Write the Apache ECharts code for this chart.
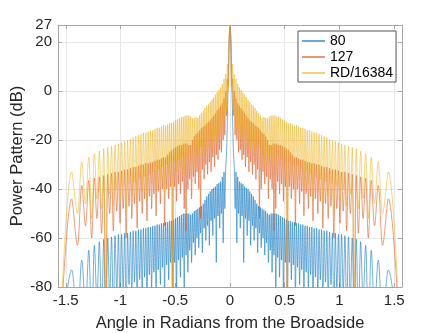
<!DOCTYPE html>
<html>
<head>
<meta charset="utf-8">
<script src="https://cdn.jsdelivr.net/npm/echarts@6/dist/echarts.min.js"></script>
<style>
  html, body { margin: 0; padding: 0; background: #fff; }
  #main { width: 444px; height: 333px; }
</style>
</head>
<body>
<div id="main"></div>
<script>
// angles (rad) of the lobes on one side, from the endfire edge to broadside
// even index = null, odd index = lobe top
var angles = [
  1.5708, 1.4457, 1.3938, 1.3539, 1.3201, 1.2904, 1.2634, 1.2386, 1.2154, 1.1936,
  1.1729, 1.1532, 1.1344, 1.1163, 1.0988, 1.0819, 1.0656, 1.0495, 1.0341, 1.0190,
  1.0042, 0.9899, 0.9758, 0.9620, 0.9484, 0.9352, 0.9221, 0.9093, 0.8967, 0.8843,
  0.8721, 0.8600, 0.8481, 0.8363, 0.8247, 0.8133, 0.8020, 0.7908, 0.7798, 0.7689,
  0.7580, 0.7473, 0.7367, 0.7262, 0.7158, 0.7055, 0.6953, 0.6852, 0.6751, 0.6652,
  0.6553, 0.6455, 0.6357, 0.6260, 0.6164, 0.6069, 0.5974, 0.5880, 0.5786, 0.5693,
  0.5601, 0.5509, 0.5417, 0.5326, 0.5236, 0.5146, 0.5057, 0.4967, 0.4879, 0.4791,
  0.4703, 0.4615, 0.4528, 0.4441, 0.4355, 0.4269, 0.4183, 0.4098, 0.4013, 0.3928,
  0.3844, 0.3760, 0.3676, 0.3592, 0.3509, 0.3426, 0.3343, 0.3261, 0.3178, 0.3096,
  0.3014, 0.2932, 0.2851, 0.2770, 0.2689, 0.2608, 0.2527, 0.2446, 0.2366, 0.2285,
  0.2205, 0.2125, 0.2046, 0.1966, 0.1886, 0.1807, 0.1727, 0.1648, 0.1569, 0.1490,
  0.1411, 0.1332, 0.1253, 0.1175, 0.1096, 0.1017, 0.0939, 0.0860, 0.0782, 0.0704,
  0.0625, 0.0547, 0.0469, 0.0391, 0.0313, 0.0234, 0.0156, 0.0078, 0
]

// power pattern in dB at those angles
var db80 = [
  -120, -73, -95, -69, -88, -65, -100, -63, -85, -61.5,
  -95, -60.5, -100, -60, -84, -59.5, -92, -59, -82, -58.5,
  -90, -58.5, -80, -58, -96, -58, -79, -57.5, -86, -57,
  -78, -57, -90, -56.5, -77, -56.5, -84, -56, -76, -56,
  -88, -55.5, -75, -55.5, -81, -55, -74, -55, -86, -54.5,
  -73, -54.5, -79, -54, -72, -54, -84, -53.5, -71, -53.5,
  -77, -53, -70, -53, -95, -52.5, -70, -52, -82, -51.5,
  -69, -51, -76, -50.5, -68, -50, -85, -50, -67, -50,
  -74, -50, -65, -50.5, -70, -50, -62, -49, -67, -48.5,
  -60, -48, -64, -47.5, -58, -47, -66, -46, -56, -44.5,
  -61, -43, -55, -42, -63, -41, -53, -40, -59, -39.5,
  -52, -39, -70, -38, -51, -37.5, -56, -37, -50, -35,
  -62, -33, -48, -31, -25, -10, 5, 20, 26
]
var db127 = [
  -120, -44, -63, -38.5, -55, -36.5, -60, -35.5, -52, -35,
  -58, -34.5, -100, -34, -50, -33.5, -57, -33, -49, -33,
  -54, -32.5, -48, -32, -60, -32, -47, -31.5, -52, -31,
  -46, -31, -56, -30.5, -45, -30, -50, -30, -44, -29.5,
  -53, -29.5, -43, -29, -48, -29, -42, -28.5, -51, -28,
  -41, -28, -46, -27.5, -40, -27, -55, -27, -40, -26,
  -44, -25, -39, -24, -100, -23.5, -39, -23, -45, -22.5,
  -38, -22, -42, -22, -37, -21.5, -48, -21.5, -57, -21.5,
  -40, -22, -36, -22, -44, -20, -35, -18.5, -38, -17.5,
  -33, -17, -40, -16, -52, -15, -32, -14.5, -36, -14,
  -30, -13, -34, -12.5, -29, -12, -33, -11, -27, -10,
  -31, -9, -26, -8, -28, -7, -24, -6, -25, -5,
  -20, -3, -18, 0, -10, 5, 2, 21, 26.5
]
var dbRD = [
  -120, -33, -50, -29, -46, -27, -52, -25.5, -44, -24.5,
  -48, -23.5, -100, -23, -42, -22.5, -47, -22, -40, -21.5,
  -45, -21, -39, -20.5, -50, -20, -38, -19.5, -43, -19,
  -37, -18.5, -46, -18, -36, -17.5, -41, -17, -35, -17,
  -44, -16.5, -34, -16, -38, -16, -33, -15.5, -40, -15,
  -32, -15, -36, -14.5, -31, -14, -42, -14, -30, -13.5,
  -34, -13, -29, -13, -100, -12.5, -29, -12, -33, -11.5,
  -28, -11, -31, -10.5, -27, -10.5, -34, -10, -27, -10,
  -30, -10, -26, -10.5, -29, -11, -25, -11, -31, -10.5,
  -24, -11, -27, -10, -23, -9, -26, -8, -22, -7,
  -25, -6, -21, -5.5, -24, -4.5, -20, -3.5, -23, -2.5,
  -19, -1.5, -21, -0.5, -17, 0.5, -19, 1.5, -15, 3,
  -16, 5, -12, 7, -8, 11, 0, 22, 27
]

var names = ['80', '127', 'RD/16384']
var colors = ['#0072BD', '#D95319', '#EDB120']
var xTicks = [-1.5, -1, -0.5, 0, 0.5, 1, 1.5]
var yTicks = [-80, -60, -40, -20, 0, 20, 27]

// pattern is symmetric: left half then mirrored right half
function pairs (vals) {
  var out = []
  for (var i = 0; i < angles.length; i++) out.push([-angles[i], vals[i]])
  for (var j = angles.length - 2; j >= 0; j--) out.push([angles[j], vals[j]])
  return out
}

var chart = echarts.init(document.getElementById('main'))
var txt = '#262626'
var boxLine = { onZero: false, lineStyle: { color: '#a6a6a6', width: 1 } }
var grid = { show: true, lineStyle: { color: '#e6e6e6', width: 1 } }

chart.setOption({
  animation: false,
  textStyle: { fontFamily: 'Liberation Sans, Arial, sans-serif' },
  grid: { left: 58, right: 42, top: 25, bottom: 46, containLabel: false, outerBoundsMode: 'none' },
  legend: {
    orient: 'vertical',
    left: 298,
    top: 31,
    data: names,
    icon: 'rect',
    itemWidth: 23,
    itemHeight: 1.2,
    itemGap: 2,
    padding: [3, 3, 2, 4],
    borderColor: '#555',
    borderWidth: 1,
    borderRadius: 0,
    backgroundColor: '#fff',
    textStyle: { fontSize: 14, color: '#000', lineHeight: 13 }
  },
  xAxis: [{
    type: 'value',
    min: -Math.PI / 2,
    max: Math.PI / 2,
    name: 'Angle in Radians from the Broadside',
    nameLocation: 'middle',
    nameGap: 28,
    nameMoveOverlap: false,
    nameTextStyle: { fontSize: 16.5, color: txt },
    axisLine: boxLine,
    axisTick: { inside: true, length: 4, customValues: xTicks, lineStyle: { color: '#a6a6a6' } },
    axisLabel: { customValues: xTicks, fontSize: 15, color: txt, margin: 6 },
    splitLine: grid
  }, {
    type: 'value',
    position: 'top',
    min: -Math.PI / 2,
    max: Math.PI / 2,
    axisLine: boxLine,
    axisTick: { inside: true, length: 4, customValues: xTicks, lineStyle: { color: '#a6a6a6' } },
    axisLabel: { show: false },
    splitLine: { show: false }
  }],
  yAxis: [{
    type: 'value',
    min: -80,
    max: 27,
    name: 'Power Pattern (dB)',
    nameLocation: 'middle',
    nameGap: 32,
    nameMoveOverlap: false,
    nameTextStyle: { fontSize: 16.5, color: txt },
    axisLine: boxLine,
    axisTick: { inside: true, length: 4, customValues: yTicks, lineStyle: { color: '#a6a6a6' } },
    axisLabel: { customValues: yTicks, fontSize: 15, color: txt, margin: 6 },
    splitLine: grid
  }, {
    type: 'value',
    position: 'right',
    min: -80,
    max: 27,
    axisLine: boxLine,
    axisTick: { inside: true, length: 4, customValues: yTicks, lineStyle: { color: '#a6a6a6' } },
    axisLabel: { show: false },
    splitLine: { show: false }
  }],
  series: [db80, db127, dbRD].map(function (vals, k) {
    return {
      name: names[k],
      type: 'line',
      data: pairs(vals),
      showSymbol: false,
      symbol: 'none',
      clip: true,
      smooth: 0.35,
      color: colors[k],
      lineStyle: { width: 0.7, color: colors[k], opacity: 0.8 }
    }
  })
})
</script>
</body>
</html>
